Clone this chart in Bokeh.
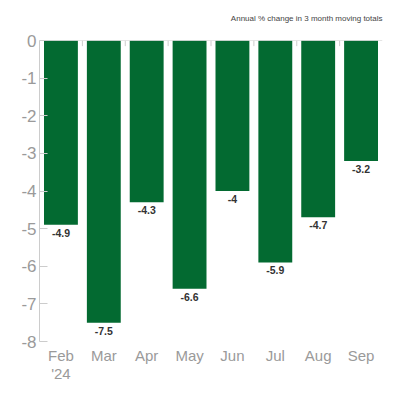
import json

from bokeh.plotting import figure
from bokeh.models import (Span, Range1d, FixedTicker, CategoricalAxis,
                          CustomJSTickFormatter, Title)
from bokeh.transform import dodge
from bokeh.core.properties import value
from bokeh.embed import file_html
from bokeh.resources import INLINE

# data
months = ["Feb", "Mar", "Apr", "May", "Jun", "Jul", "Aug", "Sep"]
changes = [-4.9, -7.5, -4.3, -6.6, -4.0, -5.9, -4.7, -3.2]
change_labels = ["-4.9", "-7.5", "-4.3", "-6.6", "-4", "-5.9", "-4.7", "-3.2"]
y_ticks = [0, -1, -2, -3, -4, -5, -6, -7, -8]
year_labels = {"Feb": "'24"}

GREEN = "#036a31"
GRID = "#cccccc"
LABEL_GRAY = "#9a9a9a"
NARROW = "'Liberation Sans Narrow', 'Liberation Sans', sans-serif"

p = figure(x_range=months, frame_width=343, frame_height=301,
           output_backend="svg", toolbar_location=None,
           min_border_left=39, min_border_right=8,
           min_border_top=40, min_border_bottom=48)
p.y_range = Range1d(-8, 0)
p.outline_line_color = None
p.grid.grid_line_color = None

p.title.text = "Annual % change in 3 month moving totals"
p.title.align = "right"
p.title.text_font = NARROW
p.title.text_font_size = "8px"
p.title.text_font_style = "normal"
p.title.text_color = "#444444"
# empty row between the title and the plot
p.add_layout(Title(text=" ", text_font_size="10px", standoff=0), "above")

# bars
p.vbar(x=months, top=0, bottom=changes, width=0.79,
       fill_color=GREEN, line_color=None)

# value labels under each bar
p.text(x=months, y=changes, text=change_labels, y_offset=4,
       text_align="center", text_baseline="top",
       text_font=value(NARROW), text_font_size="10.5px",
       text_font_style="bold", text_color="#333333")

# zero line with small ticks between categories
p.add_layout(Span(location=0, dimension="width", line_color=GRID, line_width=1))
p.segment(x0=dodge("x", -0.5, range=p.x_range), y0=0,
          x1=dodge("x", -0.5, range=p.x_range), y1=-0.15,
          source=dict(x=months[1:]), line_color=GRID, line_width=1)

# y axis, plain hyphen minus signs
p.yaxis.ticker = FixedTicker(ticks=y_ticks)
p.yaxis.major_label_overrides = {t: str(t) for t in y_ticks}
p.yaxis.axis_line_color = GRID
p.yaxis.major_tick_line_color = GRID
p.yaxis.major_tick_in = 8
p.yaxis.major_tick_out = 0
p.yaxis.minor_tick_line_color = None
p.yaxis.major_label_standoff = 3
p.yaxis.major_label_text_font = "Liberation Sans"
p.yaxis.major_label_text_font_size = "17px"
p.yaxis.major_label_text_color = LABEL_GRAY

# x axis: month names, then a second row with the year
p.xaxis.axis_line_color = None
p.xaxis.major_tick_line_color = None
p.xaxis.major_tick_out = 0
p.xaxis.major_tick_in = 0
p.xaxis.major_label_standoff = 5
p.xaxis.major_label_text_font = "Liberation Sans"
p.xaxis.major_label_text_font_size = "15px"
p.xaxis.major_label_text_color = LABEL_GRAY

year_axis = CategoricalAxis(
    formatter=CustomJSTickFormatter(
        code=f"const years = {json.dumps(year_labels)}; return years[tick] || ' ';"),
    axis_line_color=None, major_tick_line_color=None,
    major_tick_out=0, major_tick_in=0,
    major_label_standoff=-2,
    major_label_text_font="Liberation Sans",
    major_label_text_font_size="15px",
    major_label_text_color=LABEL_GRAY)
p.add_layout(year_axis, "below")

open("out.html", "w").write(file_html(p, INLINE))
